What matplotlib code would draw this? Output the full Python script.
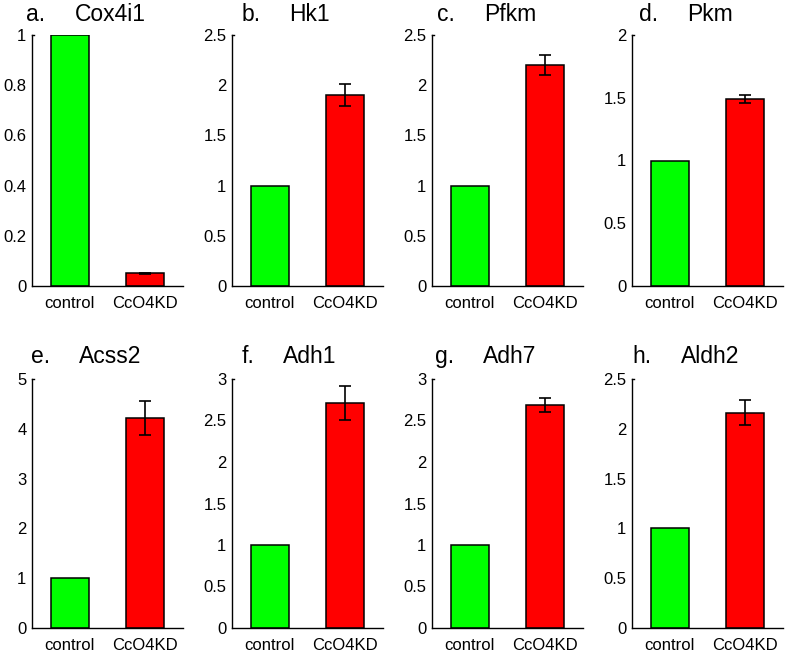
import matplotlib
matplotlib.use("Agg")
import matplotlib.pyplot as plt

plt.rcParams['font.family'] = ['Liberation Sans', 'DejaVu Sans']

letters = ["a.", "b.", "c.", "d.", "e.", "f.", "g.", "h."]
genes = ["Cox4i1", "Hk1", "Pfkm", "Pkm", "Acss2", "Adh1", "Adh7", "Aldh2"]
groups = ["control", "CcO4KD"]
control_vals = [1, 1, 1, 1, 1, 1, 1, 1]
kd_vals = [0.05, 1.90, 2.20, 1.49, 4.21, 2.71, 2.69, 2.16]
kd_err = [0.003, 0.11, 0.10, 0.035, 0.34, 0.20, 0.085, 0.125]
ymax = [1, 2.5, 2.5, 2, 5, 3, 3, 2.5]
yticks = [
    [0, 0.2, 0.4, 0.6, 0.8, 1],
    [0, 0.5, 1, 1.5, 2, 2.5],
    [0, 0.5, 1, 1.5, 2, 2.5],
    [0, 0.5, 1, 1.5, 2],
    [0, 1, 2, 3, 4, 5],
    [0, 0.5, 1, 1.5, 2, 2.5, 3],
    [0, 0.5, 1, 1.5, 2, 2.5, 3],
    [0, 0.5, 1, 1.5, 2, 2.5],
]
colors = ["#00ff00", "#ff0000"]

W, H = 787, 652
fig = plt.figure(figsize=(W / 100, H / 100), dpi=100)

col_left = [32, 232, 432, 632]
rows = [(35, 286), (379, 628)]
axw = 151

def fmt(v):
    return "%g" % v

axes = []
for i in range(8):
    r, c = divmod(i, 4)
    top, bot = rows[r]
    ax = fig.add_axes([col_left[c] / W, 1 - bot / H, axw / W, (bot - top) / H])
    axes.append(ax)
    x = [1, 2]
    vals = [control_vals[i], kd_vals[i]]
    ax.bar(x, vals, width=0.5, color=colors, edgecolor="black", linewidth=1.1, zorder=2)
    ax.errorbar([2], [kd_vals[i]], yerr=[kd_err[i]], fmt="none", ecolor="black",
                elinewidth=1.2, capsize=4, capthick=1.2, zorder=3)
    ax.set_xlim(0.5, 2.5)
    ax.set_ylim(0, ymax[i])
    ax.set_xticks(x)
    ax.set_xticklabels(groups, fontsize=12)
    ax.set_yticks(yticks[i])
    ax.set_yticklabels([fmt(v) for v in yticks[i]], fontsize=12)
    ax.tick_params(axis="x", length=0, pad=7)
    ax.tick_params(axis="y", length=0, pad=4)
    for s in ["top", "right"]:
        ax.spines[s].set_visible(False)
    for s in ["left", "bottom"]:
        ax.spines[s].set_linewidth(1.0)
    ax.plot([0.5, 0.53], [ymax[i], ymax[i]], color="black", lw=1.0, clip_on=False)
    base = 14 if r == 0 else 16
    ax.text(0.516, 1 + base / (bot - top), genes[i], transform=ax.transAxes,
            ha="center", va="baseline", fontsize=16.5)

fig.canvas.draw()
renderer = fig.canvas.get_renderer()
for i, ax in enumerate(axes):
    t = ax.texts[0]
    bb = t.get_window_extent(renderer)
    x0 = bb.x0 - 29
    xf = ax.transAxes.inverted().transform((x0, 0))[0]
    yf = t.get_position()[1]
    ax.text(xf, yf, letters[i], transform=ax.transAxes, ha="right", va="baseline", fontsize=16.5)

fig.savefig("out.png", dpi=100)
